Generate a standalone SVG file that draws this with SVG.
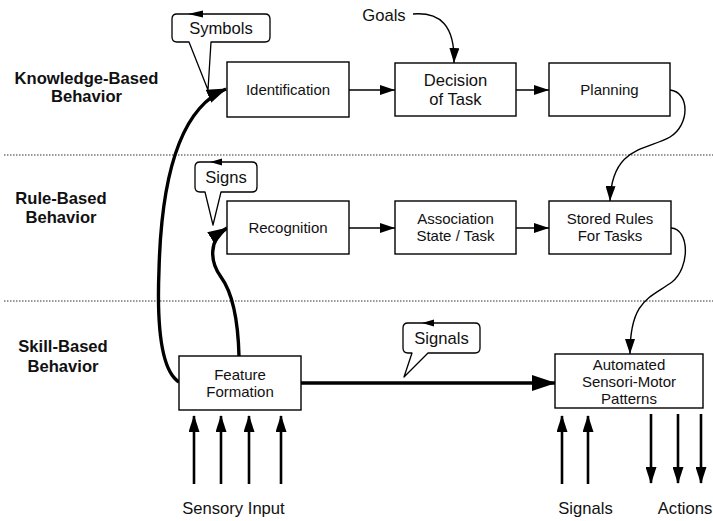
<svg xmlns="http://www.w3.org/2000/svg" width="713" height="521" viewBox="0 0 713 521">
  <style>
    .box { fill: #fff; stroke: #000; stroke-width: 1.4; }
    .lbl { font-family: "Liberation Sans", Arial, sans-serif; font-size: 15px; fill: #111; text-anchor: middle; }
    .big { font-size: 16.6px; }
    .lvl { font-family: "Liberation Sans", Arial, sans-serif; font-size: 16.6px; font-weight: bold; fill: #111; text-anchor: middle; }
    .thin { fill: none; stroke: #000; stroke-width: 1.4; }
    .thick { fill: none; stroke: #000; stroke-width: 3.4; }
    .io { fill: none; stroke: #000; stroke-width: 2.6; }
    .bubble { fill: #fff; stroke: #000; stroke-width: 1.3; stroke-linejoin: round; }
    .sep { stroke: #333; stroke-width: 1.2; stroke-dasharray: 1.5 1.5; }
  </style>
  <defs>
    <marker id="ah" markerUnits="userSpaceOnUse" markerWidth="15" markerHeight="10" refX="15" refY="5" orient="auto">
      <path d="M0,0 L15,5 L0,10 Z" fill="#000"/>
    </marker>
    <marker id="ahm" markerUnits="userSpaceOnUse" markerWidth="20" markerHeight="14" refX="19" refY="7" orient="auto">
      <path d="M0,0 L20,7 L0,14 Z" fill="#000"/>
    </marker>
    <marker id="ahl" markerUnits="userSpaceOnUse" markerWidth="24" markerHeight="16" refX="23" refY="8" orient="auto">
      <path d="M0,0 L24,8 L0,16 Z" fill="#000"/>
    </marker>
    <marker id="ahio" markerUnits="userSpaceOnUse" markerWidth="17" markerHeight="11" refX="16" refY="5.5" orient="auto">
      <path d="M0,0 L17,5.5 L0,11 Z" fill="#000"/>
    </marker>
  </defs>

  <rect width="713" height="521" fill="#fff"/>

  <!-- level separators -->
  <g id="separators">
    <line class="sep" x1="4" y1="155" x2="713" y2="155"/>
    <line class="sep" x1="4" y1="301" x2="713" y2="301"/>
  </g>

  <!-- level titles -->
  <g id="levels">
    <text class="lvl" x="86.5" y="84">Knowledge-Based</text>
    <text class="lvl" x="86.5" y="102">Behavior</text>
    <text class="lvl" x="61" y="204">Rule-Based</text>
    <text class="lvl" x="61" y="223">Behavior</text>
    <text class="lvl" x="63" y="352">Skill-Based</text>
    <text class="lvl" x="63" y="372">Behavior</text>
  </g>

  <!-- connectors -->
  <g id="connectors">
    <line class="thin" x1="349" y1="90" x2="395" y2="90" marker-end="url(#ah)"/>
    <line class="thin" x1="516" y1="90" x2="549" y2="90" marker-end="url(#ah)"/>
    <line class="thin" x1="349" y1="228" x2="395" y2="228" marker-end="url(#ah)"/>
    <line class="thin" x1="516" y1="228" x2="549" y2="228" marker-end="url(#ah)"/>
    <path class="thin" d="M413,14 C440,12 455,25 454,63" marker-end="url(#ah)"/>
    <path class="thin" d="M670,90 C690,92 690,125 670,137 C648,150 612,145 610,201" marker-end="url(#ah)"/>
    <path class="thin" d="M671,228 C690,229 690,268 672,282 C650,298 630,300 630,354" marker-end="url(#ah)"/>
    <path class="thick" d="M179,382 C160,370 157,320 159,270 C161,190 175,110 226,89" marker-end="url(#ahm)"/>
    <path class="thick" d="M239,356 C238,318 232,292 221,277 C210,262 208,240 227,228" marker-end="url(#ahm)"/>
    <line class="thick" x1="301" y1="383" x2="555" y2="383" marker-end="url(#ahl)"/>
    <!-- sensory input -->
    <line class="io" x1="194" y1="484" x2="194" y2="416" marker-end="url(#ahio)"/>
    <line class="io" x1="221" y1="484" x2="221" y2="416" marker-end="url(#ahio)"/>
    <line class="io" x1="249" y1="484" x2="249" y2="416" marker-end="url(#ahio)"/>
    <line class="io" x1="281" y1="484" x2="281" y2="416" marker-end="url(#ahio)"/>
    <!-- signals in -->
    <line class="io" x1="562" y1="484" x2="562" y2="416" marker-end="url(#ahio)"/>
    <line class="io" x1="588" y1="484" x2="588" y2="416" marker-end="url(#ahio)"/>
    <!-- actions out -->
    <line class="io" x1="651" y1="414" x2="651" y2="483" marker-end="url(#ahio)"/>
    <line class="io" x1="678" y1="414" x2="678" y2="483" marker-end="url(#ahio)"/>
    <line class="io" x1="701" y1="414" x2="701" y2="483" marker-end="url(#ahio)"/>
  </g>

  <!-- callouts -->
  <g id="symbols">
    <path class="bubble" d="M189,42 L177,42 Q172,42 172,37 L172,19 Q172,14 177,14 L265,14 Q270,14 270,19 L270,37 Q270,42 265,42 L211,42 L208,90 Z"/>
    <polygon points="188,14 203,10.5 203,17.5" fill="#000"/>
    <text class="lbl big" x="221" y="34">Symbols</text>
  </g>
  <g id="signs">
    <path class="bubble" d="M205,192 L200,192 Q195,192 195,187 L195,167 Q195,162 200,162 L252,162 Q257,162 257,167 L257,187 Q257,192 252,192 L221,192 L213,225 Z"/>
    <polygon points="210,162 222,158.5 222,165.5" fill="#000"/>
    <text class="lbl big" x="226" y="183">Signs</text>
  </g>
  <g id="signals-cue">
    <path class="bubble" d="M412,353 L408,353 Q403,353 403,348 L403,328 Q403,323 408,323 L475,323 Q480,323 480,328 L480,348 Q480,353 475,353 L428,353 L404,377 Z"/>
    <polygon points="422,323 434,319.5 434,326.5" fill="#000"/>
    <text class="lbl big" x="441.5" y="344">Signals</text>
  </g>
  <g id="goals">
    <text class="lbl big" x="384" y="21">Goals</text>
  </g>

  <!-- nodes -->
  <g id="identification">
    <rect class="box" x="227" y="62" width="122" height="55"/>
    <text class="lbl" x="288" y="95">Identification</text>
  </g>
  <g id="decision">
    <rect class="box" x="395" y="63" width="121" height="53"/>
    <text class="lbl big" x="455.5" y="86">Decision</text>
    <text class="lbl big" x="455.5" y="105">of Task</text>
  </g>
  <g id="planning">
    <rect class="box" x="549" y="63" width="121" height="53"/>
    <text class="lbl" x="609.5" y="95">Planning</text>
  </g>
  <g id="recognition">
    <rect class="box" x="227" y="201" width="122" height="53"/>
    <text class="lbl" x="288" y="233">Recognition</text>
  </g>
  <g id="association">
    <rect class="box" x="395" y="201" width="121" height="53"/>
    <text class="lbl" x="455.5" y="224">Association</text>
    <text class="lbl" x="455.5" y="241">State / Task</text>
  </g>
  <g id="stored-rules">
    <rect class="box" x="549" y="201" width="122" height="53"/>
    <text class="lbl" x="610" y="224">Stored Rules</text>
    <text class="lbl" x="610" y="241">For Tasks</text>
  </g>
  <g id="feature-formation">
    <rect class="box" x="179" y="356" width="122" height="54"/>
    <text class="lbl" x="240" y="379.5">Feature</text>
    <text class="lbl" x="240" y="396.5">Formation</text>
  </g>
  <g id="automated">
    <rect class="box" x="555" y="354" width="148" height="54"/>
    <text class="lbl" x="629" y="370">Automated</text>
    <text class="lbl" x="629" y="387">Sensori-Motor</text>
    <text class="lbl" x="629" y="404">Patterns</text>
  </g>

  <!-- io labels -->
  <g id="io-labels">
    <text class="lbl big" x="233.5" y="514">Sensory Input</text>
    <text class="lbl big" x="585.5" y="514">Signals</text>
    <text class="lbl big" x="685" y="514">Actions</text>
  </g>
</svg>
